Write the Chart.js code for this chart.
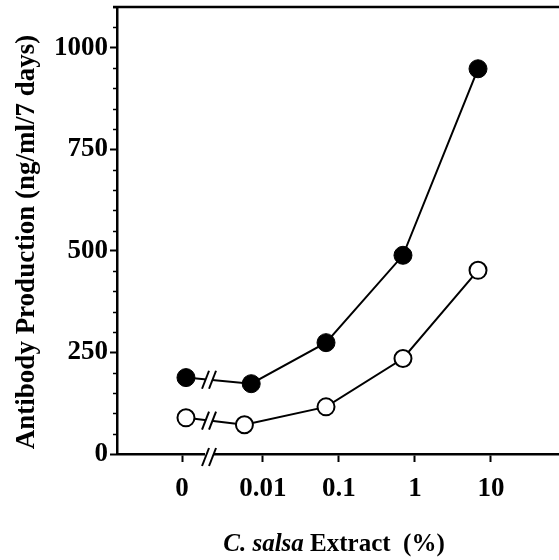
<!DOCTYPE html>
<html>
<head>
<meta charset="utf-8">
<script src="https://cdn.jsdelivr.net/npm/chart.js@4/dist/chart.umd.min.js"></script>
<style>
	html, body { margin: 0; padding: 0; background: #fff; }
	canvas { display: block; }
</style>
</head>
<body>
<canvas id="chart" width="559" height="560"></canvas>
<script>
// doses in % (0 = control, drawn left of the axis break)
const filledDoses = [0, 0.0070, 0.0675, 0.695, 6.75]
const filledValues = [188, 173, 274, 489, 948]
const openDoses = [0, 0.0057, 0.0675, 0.695, 6.75]
const openValues = [89, 72, 116, 235, 452]

const xTickValues = [0, 0.01, 0.1, 1, 10]
const yTickValues = [0, 250, 500, 750, 1000]

// where the control group sits on the log axis, and where the break goes
const ZERO_TICK = 0.00086
const ZERO_POINT = 0.00097
const BREAK_POS = 0.00195

const FONT = "'Liberation Serif', 'Times New Roman', serif"

function toPoints(doses, values) {
	return doses.map((d, i) => ({ x: d === 0 ? ZERO_POINT : d, y: values[i] }))
}

const breakMarks = {
	id: 'breakMarks',
	afterDatasetsDraw(chart) {
		const { ctx, scales: { x, y } } = chart
		const bx = x.getPixelForValue(BREAK_POS)
		ctx.save()
		ctx.strokeStyle = '#000'
		ctx.lineWidth = 2
		const slash = (cx, cy) => {
			ctx.fillStyle = '#fff'
			ctx.fillRect(cx - 4, cy - 5, 8, 10)
			for (const dx of [-3.5, 3.5]) {
				ctx.beginPath()
				ctx.moveTo(cx + dx - 3.5, cy + 9)
				ctx.lineTo(cx + dx + 3.5, cy - 9)
				ctx.stroke()
			}
		}
		chart.data.datasets.forEach((ds, i) => {
			const pts = chart.getDatasetMeta(i).data
			const t = (bx - pts[0].x) / (pts[1].x - pts[0].x)
			slash(bx, pts[0].y + t * (pts[1].y - pts[0].y))
		})
		slash(bx, y.bottom + 3)
		ctx.restore()
	},
	afterDraw(chart) {
		const { ctx, chartArea, scales: { y } } = chart
		ctx.save()
		ctx.strokeStyle = '#000'
		// minor ticks every 50
		ctx.lineWidth = 1.5
		for (let v = 50; v <= 1100; v += 50) {
			if (v % 250 === 0) continue
			const py = Math.round(y.getPixelForValue(v)) + 0.5
			ctx.beginPath()
			ctx.moveTo(chartArea.left - 4, py)
			ctx.lineTo(chartArea.left, py)
			ctx.stroke()
		}
		// top frame line
		ctx.lineWidth = 2.5
		ctx.beginPath()
		ctx.moveTo(chartArea.left - 4, chartArea.top)
		ctx.lineTo(chart.width, chartArea.top)
		ctx.stroke()

		ctx.fillStyle = '#000'
		ctx.textBaseline = 'alphabetic'
		// y axis title
		ctx.save()
		ctx.translate(34, 242)
		ctx.rotate(-Math.PI / 2)
		ctx.textAlign = 'center'
		ctx.font = 'bold 27px ' + FONT
		ctx.fillText('Antibody Production (ng/ml/7 days)', 0, 0)
		ctx.restore()

		// x axis title with italic species name
		const part1 = 'C. salsa'
		const part2 = ' Extract  (%)'
		ctx.font = 'italic bold 25px ' + FONT
		const w1 = ctx.measureText(part1).width
		ctx.font = 'bold 25px ' + FONT
		const w2 = ctx.measureText(part2).width
		const start = 334 - (w1 + w2) / 2
		ctx.font = 'italic bold 25px ' + FONT
		ctx.fillText(part1, start, 551)
		ctx.font = 'bold 25px ' + FONT
		ctx.fillText(part2, start + w1, 551)
		ctx.restore()
	},
}

new Chart(document.getElementById('chart').getContext('2d'), {
	type: 'line',
	data: {
		datasets: [
			{
				data: toPoints(filledDoses, filledValues),
				borderColor: '#000',
				borderWidth: 2,
				pointRadius: 9,
				pointBackgroundColor: '#000',
				pointBorderColor: '#000',
				pointBorderWidth: 1,
			},
			{
				data: toPoints(openDoses, openValues),
				borderColor: '#000',
				borderWidth: 2,
				pointRadius: 8.5,
				pointBackgroundColor: '#fff',
				pointBorderColor: '#000',
				pointBorderWidth: 2,
			},
		],
	},
	options: {
		responsive: false,
		animation: false,
		layout: { autoPadding: false, padding: { top: 7, right: 0, left: 0, bottom: 0 } },
		plugins: {
			legend: { display: false },
			tooltip: { enabled: false },
		},
		scales: {
			x: {
				type: 'logarithmic',
				min: 0.00012,
				max: 78.5,
				afterBuildTicks(scale) {
					scale.ticks = xTickValues.map((v) => ({ value: v === 0 ? ZERO_TICK : v }))
				},
				afterFit(scale) {
					scale.height = 106
					scale.paddingLeft = 0
					scale.paddingRight = 0
				},
				border: { display: true, color: '#000', width: 2.5 },
				grid: { drawOnChartArea: false, drawTicks: true, tickLength: 8, tickColor: '#000', tickWidth: 2 },
				ticks: {
					color: '#000',
					font: { family: FONT, size: 27, weight: 'bold' },
					padding: 11,
					maxRotation: 0,
					autoSkip: false,
					callback: (value) => (value === ZERO_TICK ? '0' : String(value)),
				},
			},
			y: {
				min: 0,
				max: 1100,
				afterBuildTicks(scale) {
					scale.ticks = yTickValues.map((v) => ({ value: v }))
				},
				afterFit(scale) {
					scale.width = 117
					scale.paddingTop = 0
					scale.paddingBottom = 0
				},
				border: { display: true, color: '#000', width: 2.5 },
				grid: { drawOnChartArea: false, drawTicks: true, tickLength: 7, tickColor: '#000', tickWidth: 2 },
				ticks: {
					color: '#000',
					font: { family: FONT, size: 27, weight: 'bold' },
					padding: 2,
					callback: (value) => String(value),
				},
			},
		},
	},
	plugins: [breakMarks],
})
</script>
</body>
</html>
